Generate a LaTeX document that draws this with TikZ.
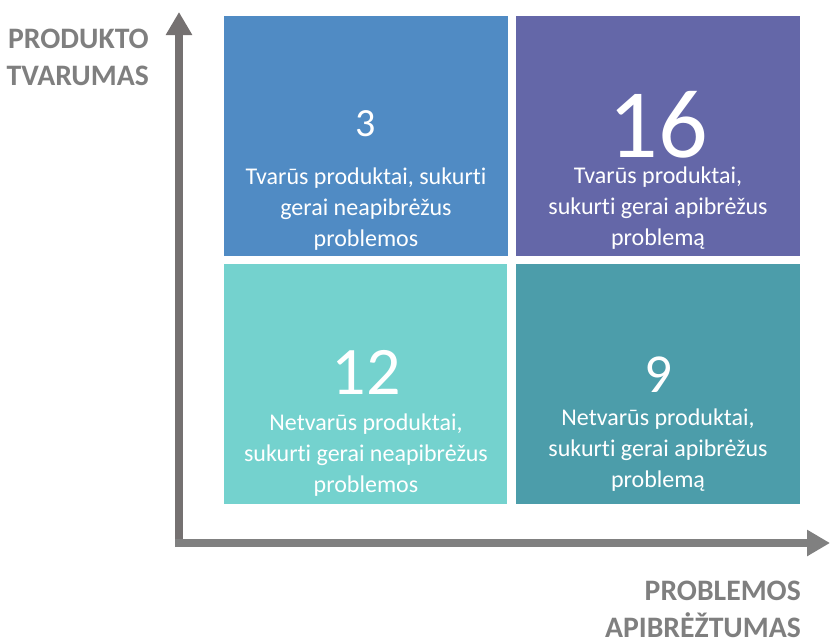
\documentclass[tikz,border=0pt]{standalone}
\usepackage{fontspec}
\setmainfont{Carlito}[Ligatures={NoCommon,NoRare}]
\usetikzlibrary{arrows.meta}
\definecolor{cTL}{HTML}{508BC4}
\definecolor{cTR}{HTML}{6467A8}
\definecolor{cBL}{HTML}{74D2CE}
\definecolor{cBR}{HTML}{4C9DAA}
\definecolor{axV}{HTML}{757171}
\definecolor{axH}{HTML}{808080}
\definecolor{lab}{HTML}{7F7F7F}
\tikzset{
  quad/.style={anchor=north west,inner sep=0pt,minimum width=284pt,minimum height=240pt},
  body/.style={text=white,align=center,inner sep=0pt,font=\fontsize{24}{31}\selectfont},
  num/.style={text=white,inner sep=0pt,text depth=0pt},
  axislab/.style={text=lab,align=right,inner sep=0pt,font=\bfseries\fontsize{29.7}{37}\selectfont},
  axisline/.style={line width=8pt,-{Triangle[length=23pt,width=25pt]}}
}
\begin{document}
\begin{tikzpicture}[x=1pt,y=-1pt]
\useasboundingbox (0,0) rectangle (830,643);
% quadrants
\node[quad,fill=cTL] (tl) at (224,16) {};
\node[quad,fill=cTR] (tr) at (516,16) {};
\node[quad,fill=cBL,minimum width=283pt] (bl) at (224,264) {};
\node[quad,fill=cBR] (br) at (516,264) {};
% numbers
\node[num,font=\fontsize{40}{40}\selectfont] (n3) at (366,124) {3};
\node[num,font=\fontsize{98}{98}\selectfont] (n16) at (658,124) {16};
\node[num,font=\fontsize{68}{68}\selectfont] (n12) at (366,372) {12};
\node[num,font=\fontsize{55}{55}\selectfont] (n9) at (658,375) {9};
% texts
\node[body] (t1) at (366,209) {Tvarūs produktai, sukurti\\gerai neapibrėžus\\problemos};
\node[body] (t2) at (658,208) {Tvarūs produktai,\\sukurti gerai apibrėžus\\problemą};
\node[body] (t3) at (366,455) {Netvarūs produktai,\\sukurti gerai neapibrėžus\\problemos};
\node[body] (t4) at (658,450) {Netvarūs produktai,\\sukurti gerai apibrėžus\\problemą};
% axes
\coordinate (o) at (179,547);
\coordinate (ytip) at (179,12);
\coordinate (hstart) at (175,543);
\coordinate (xtip) at (830,543);
\draw[axisline,axV] (o) -- (ytip);
\draw[axisline,axH] (hstart) -- (xtip);
% axis labels
\node[axislab,anchor=east] (ylab) at (149,57) {PRODUKTO\\TVARUMAS};
\node[axislab,anchor=east] (xlab) at (801,609) {PROBLEMOS\\APIBRĖŽTUMAS};
\end{tikzpicture}
\end{document}
